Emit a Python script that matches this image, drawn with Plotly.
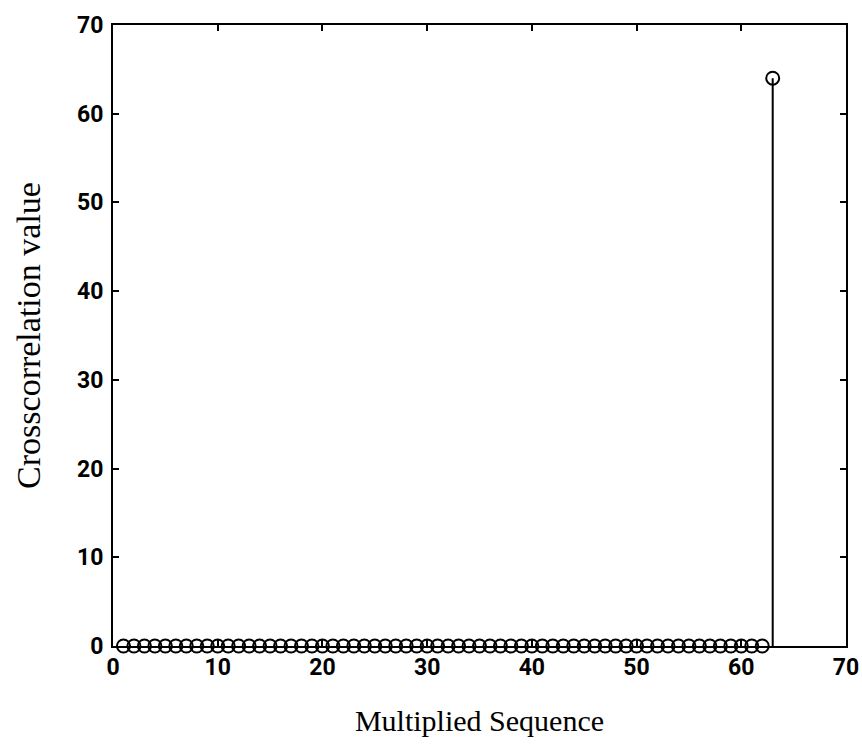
import plotly.graph_objects as go

# Data
x_values = list(range(1, 64))
y_values = [0] * 62 + [64]
x_ticks = [0, 10, 20, 30, 40, 50, 60, 70]
y_ticks = [0, 10, 20, 30, 40, 50, 60, 70]

# stems built from data
stem_x, stem_y = [], []
for xv, yv in zip(x_values, y_values):
    stem_x += [xv, xv, None]
    stem_y += [0, yv, None]

fig = go.Figure()
fig.add_trace(go.Scatter(x=stem_x, y=stem_y, mode="lines",
                         line=dict(color="black", width=2), hoverinfo="skip",
                         showlegend=False))
fig.add_trace(go.Scatter(x=x_values, y=y_values, mode="markers",
                         marker=dict(symbol="circle-open", size=13,
                                     color="black", line=dict(width=2)),
                         showlegend=False, cliponaxis=False))

tick_font = dict(family="Roboto, sans-serif", size=23, color="black", weight="bold")

axis_common = dict(showgrid=False, zeroline=False, showline=True,
                   linecolor="black", linewidth=2, mirror="ticks",
                   ticks="inside", ticklen=6, tickwidth=2, tickcolor="black",
                   tickfont=tick_font, automargin=False)

fig.update_xaxes(range=[0, 70], tickvals=x_ticks,
                 title=dict(text="Multiplied Sequence",
                            font=dict(family="Liberation Serif", size=30, color="black"),
                            standoff=30),
                 ticklabelstandoff=-1, **axis_common)
fig.update_yaxes(range=[0, 70], tickvals=y_ticks,
                 title=dict(text="Crosscorrelation value",
                            font=dict(family="Liberation Serif", size=34, color="black"),
                            standoff=26),
                 ticklabelstandoff=3, **axis_common)

fig.update_layout(width=862, height=749,
                  margin=dict(l=113, r=16, t=25, b=103),
                  plot_bgcolor="white", paper_bgcolor="white")

fig.write_html("out.html")
